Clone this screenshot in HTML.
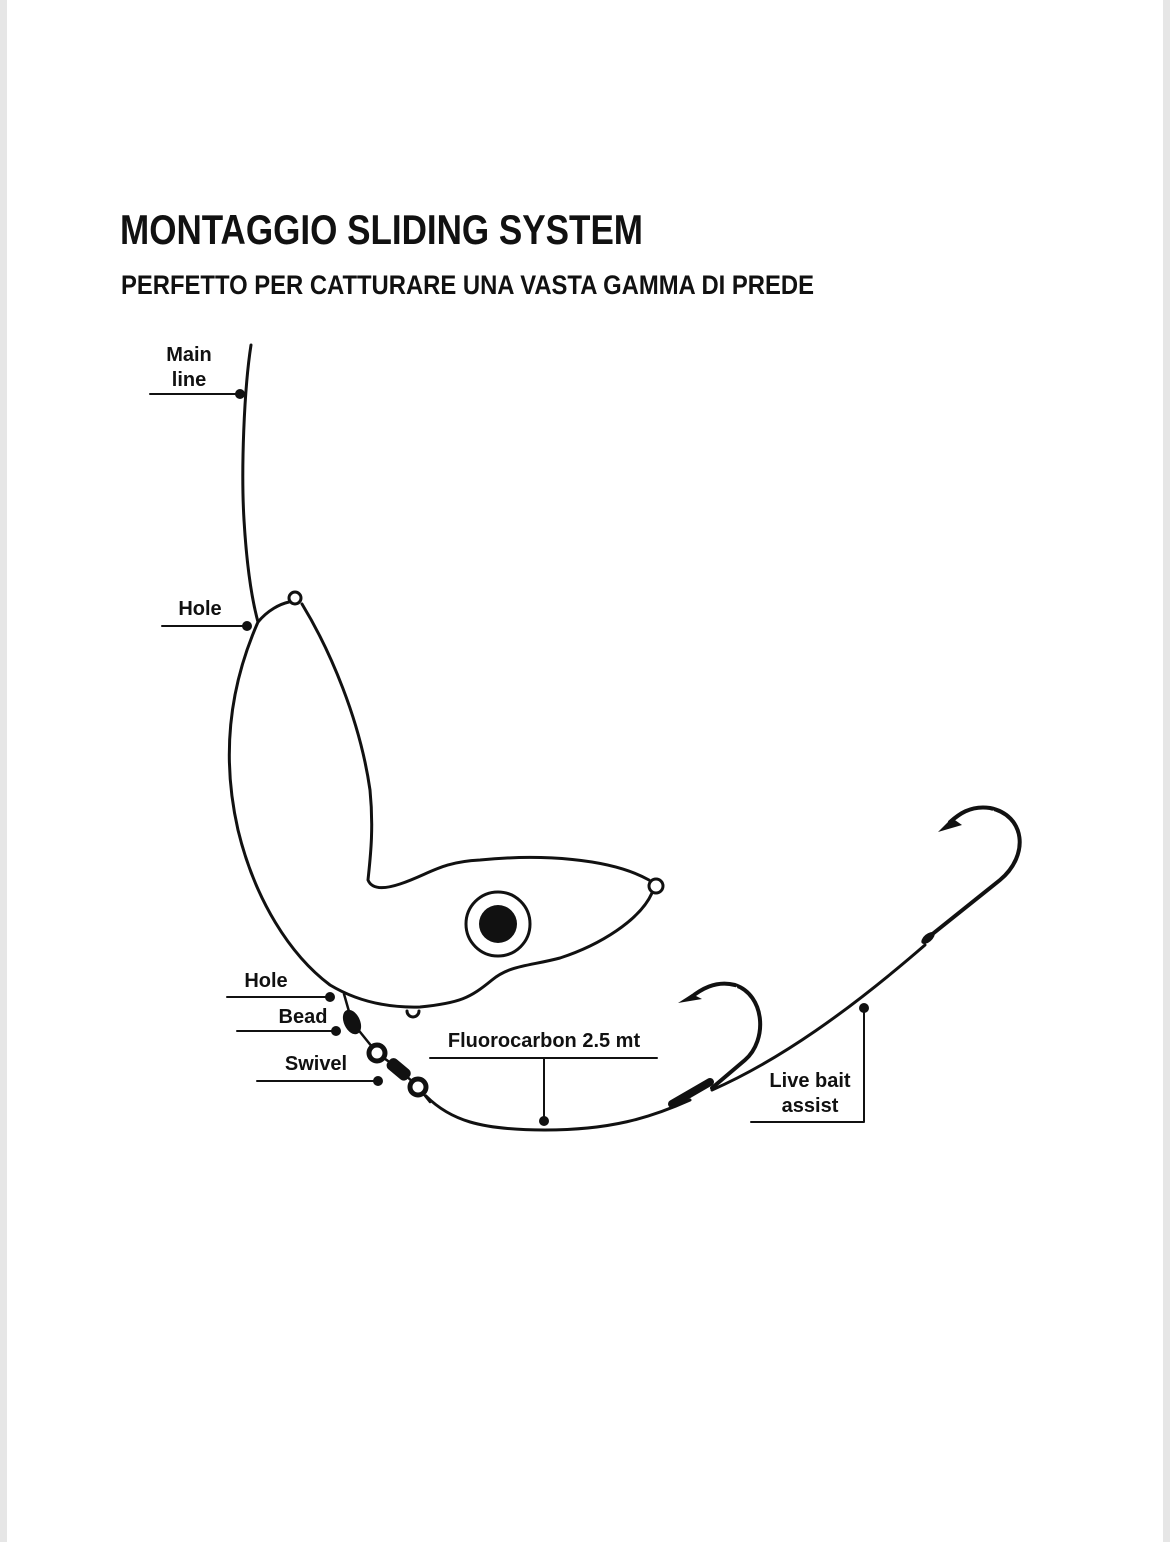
<!DOCTYPE html>
<html><head><meta charset="utf-8"><style>
html,body{margin:0;padding:0;background:#fff}
body{width:1170px;height:1542px;overflow:hidden}
</style></head><body>
<svg width="1170" height="1542" viewBox="0 0 1170 1542" xmlns="http://www.w3.org/2000/svg">
<rect x="0" y="0" width="1170" height="1542" fill="#fff"/>
<rect x="0" y="0" width="7" height="1542" fill="#e6e6e6"/>
<rect x="1163" y="0" width="7" height="1542" fill="#e6e6e6"/>
<text x="120" y="244" font-family="Liberation Sans Narrow, Liberation Sans, sans-serif" font-weight="bold" font-size="42" textLength="523" lengthAdjust="spacingAndGlyphs" fill="#111">MONTAGGIO SLIDING SYSTEM</text>
<text x="121" y="294" font-family="Liberation Sans Narrow, Liberation Sans, sans-serif" font-weight="bold" font-size="27" textLength="693" lengthAdjust="spacingAndGlyphs" fill="#111">PERFETTO PER CATTURARE UNA VASTA GAMMA DI PREDE</text>

<g fill="none" stroke="#111" stroke-width="3" stroke-linecap="round" stroke-linejoin="round">
<path d="M251 345 C244 390 241 470 244 520 C247 570 252 600 258 622"/>
<path d="M258 622 C268 610 280 604 289 602 M302 604 C330 650 360 720 370 790 C374 830 370 860 368 880 C372 890 385 889 400 884 C430 874 440 862 480 860 C540 854 610 858 649 880 M652 893 C640 920 600 945 560 958 C530 966 510 965 492 980 C470 998 460 1003 420 1007 C385 1008 355 1000 330 985 C290 955 255 900 238 830 C222 760 228 690 258 622"/>
<circle cx="295" cy="598" r="6"/>
<circle cx="656" cy="886" r="7"/>
<path d="M407 1011 a6 6 0 1 0 12 0"/>
<circle cx="498" cy="924" r="32"/>
<path d="M344 994 L352 1022 L377 1053 L399 1069 L418 1087 L430 1102" stroke-width="2.5"/>
<path d="M426 1096 C450 1120 480 1130 545 1130 C610 1130 650 1118 690 1100"/>
<path d="M712 1090 C780 1060 850 1010 925 945"/>
<path d="M712 1088 L745 1060 C768 1040 765 995 735 985 C715 980 700 990 690 998" stroke-width="4"/>
<path d="M930 936 L1000 880 C1030 855 1025 815 990 808 C970 805 958 815 950 822" stroke-width="4"/>
<g stroke-width="2">
<path d="M150 394 H240 M162 626 H247 M227 997 H330 M237 1031 H336 M257 1081 H378 M430 1058 H657 M544 1058 V1121 M751 1122 H864 V1008"/>
</g>
</g>
<g fill="#fff" stroke="#fff"><path d="M733 990 L737 987" stroke-width="1.2"/><path d="M990 812 L994 811" stroke-width="1.2"/></g>
<path d="M692 994 L678 1003 L702 999 Z" fill="#111"/>
<path d="M952 818 L938 832 L962 825 Z" fill="#111"/>
<path d="M672 1104 L710 1082" stroke="#111" stroke-width="8" stroke-linecap="round"/>
<ellipse cx="928" cy="938" rx="8" ry="4" transform="rotate(-40 928 938)" fill="#111"/>
<ellipse cx="352" cy="1022" rx="8" ry="13" transform="rotate(-25 352 1022)" fill="#111"/>
<g fill="#fff" stroke="#111" stroke-width="5">
<circle cx="377" cy="1053" r="8"/>
<circle cx="418" cy="1087" r="8"/>
</g>
<rect x="386" y="1063" width="26" height="13" rx="5" transform="rotate(40 399 1069)" fill="#111"/>
<g fill="#111">
<circle cx="498" cy="924" r="19"/>
<circle cx="240" cy="394" r="5"/>
<circle cx="247" cy="626" r="5"/>
<circle cx="330" cy="997" r="5"/>
<circle cx="336" cy="1031" r="5"/>
<circle cx="378" cy="1081" r="5"/>
<circle cx="544" cy="1121" r="5"/>
<circle cx="864" cy="1008" r="5"/>
</g>
<g font-family="Liberation Sans, sans-serif" font-weight="bold" font-size="20" fill="#111" text-anchor="middle">
<text x="189" y="361">Main</text>
<text x="189" y="386">line</text>
<text x="200" y="615">Hole</text>
<text x="266" y="987">Hole</text>
<text x="303" y="1023">Bead</text>
<text x="316" y="1070">Swivel</text>
<text x="544" y="1047">Fluorocarbon 2.5 mt</text>
<text x="810" y="1087">Live bait</text>
<text x="810" y="1112">assist</text>
</g>
</svg>
</body></html>
